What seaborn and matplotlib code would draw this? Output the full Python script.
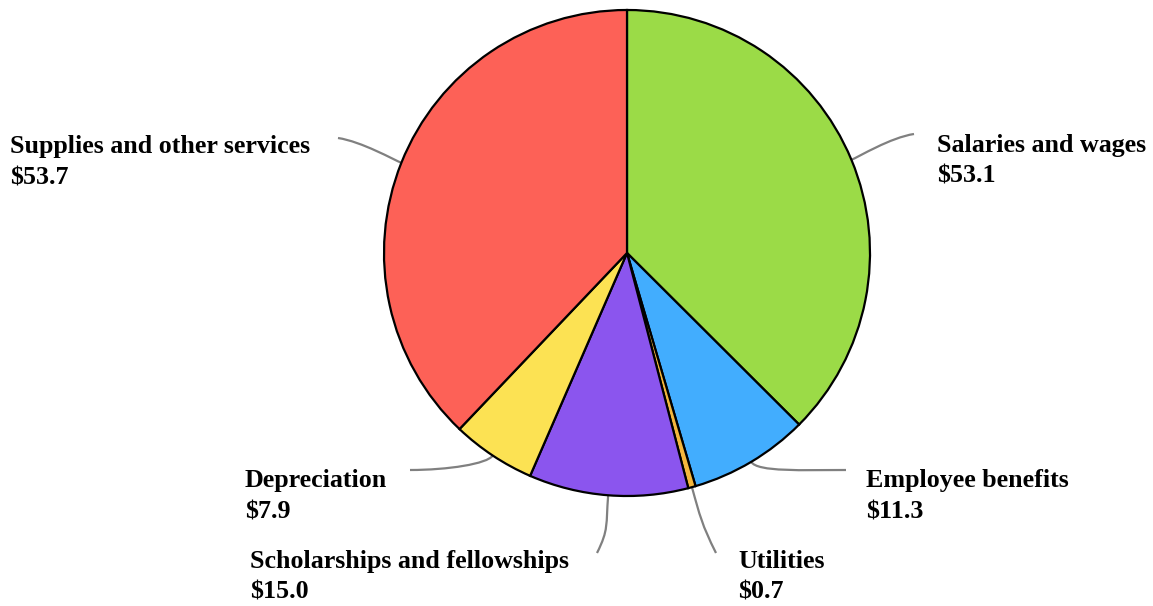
import numpy as np
import matplotlib
matplotlib.use("Agg")
import matplotlib.pyplot as plt
from matplotlib.path import Path
from matplotlib.patches import PathPatch
import seaborn as sns

categories = ["Salaries and wages", "Employee benefits", "Utilities",
              "Scholarships and fellowships", "Depreciation", "Supplies and other services"]
values = [53.1, 11.3, 0.7, 15.0, 7.9, 53.7]
value_labels = ["$53.1", "$11.3", "$0.7", "$15.0", "$7.9", "$53.7"]
colors = ["#9BDB47", "#42ADFE", "#F4B73E", "#8B55EE", "#FCE253", "#FD6157"]

sns.set_theme(style="white")
plt.rcParams['font.family'] = ['Liberation Serif', 'DejaVu Serif']

W, H = 1153, 606
fig = plt.figure(figsize=(W / 100, H / 100), dpi=100)
ax = fig.add_axes([0, 0, 1, 1])

cx, cy, R = 627, H - 253, 243
wedges, _ = ax.pie(values, colors=colors, startangle=90, counterclock=False,
                   center=(cx, cy), radius=R, frame=True,
                   wedgeprops=dict(edgecolor="black", linewidth=1.6))
ax.set_xlim(0, W)
ax.set_ylim(0, H)
ax.set_aspect("equal")
ax.axis("off")

# label layout (pixel coords from top)
layout = {
    "Salaries and wages": dict(tx=937, ty=152, end=(914, 134), ext=8, dirv=(-1, 0.15), k=0.35),
    "Employee benefits": dict(tx=866, ty=487, end=(846, 470), ext=12, dirv=(-1, 0), k=0.45),
    "Utilities": dict(tx=738, ty=568, end=(716, 553), ext=30, dirv=(-0.5, -1), k=0.45),
    "Scholarships and fellowships": dict(tx=250, ty=568, end=(597, 553), ext=30, dirv=(0.5, -1), k=0.45),
    "Depreciation": dict(tx=245, ty=487, end=(410, 470), ext=10, dirv=(1, 0), k=0.45),
    "Supplies and other services": dict(tx=10, ty=153, end=(338, 138), ext=8, dirv=(1, 0.15), k=0.35),
}

for w, cat, vl in zip(wedges, categories, value_labels):
    ang = np.deg2rad((w.theta1 + w.theta2) / 2)
    ux, uy = np.cos(ang), np.sin(ang)
    ax0, ay0 = cx + R * ux, cy + R * uy
    L = layout[cat]
    ex, ey = L["end"][0], H - L["end"][1]
    dx, dy = L["dirv"]
    n = np.hypot(dx, dy)
    dx, dy = dx / n, -dy / n
    ext = L["ext"]
    p1 = (ax0 + ux * ext, ay0 + uy * ext)
    dist = np.hypot(ex - ax0, ey - ay0)
    p2 = (ex + dx * dist * L["k"], ey + dy * dist * L["k"])
    path = Path([(ax0, ay0), p1, p2, (ex, ey)],
                [Path.MOVETO, Path.CURVE4, Path.CURVE4, Path.CURVE4])
    ax.add_patch(PathPatch(path, fc="none", ec="#808080", lw=1.6, zorder=0))
    ax.text(L["tx"], H - L["ty"], cat, ha="left", va="baseline",
            fontsize=18.7, fontweight="bold", color="black")
    ax.text(L["tx"], H - L["ty"] - 31, vl, ha="left", va="baseline",
            fontsize=18.7, fontweight="bold", color="black")

fig.savefig("out.png", dpi=100, facecolor="white")
